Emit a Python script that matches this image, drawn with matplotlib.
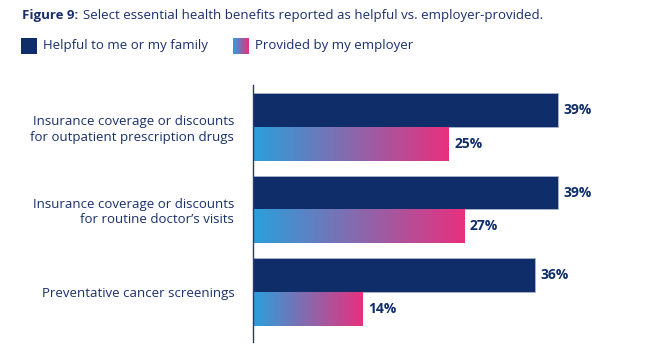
import numpy as np
import matplotlib
matplotlib.use('Agg')
import matplotlib.pyplot as plt
from matplotlib.colors import LinearSegmentedColormap

# data
categories = ['Insurance coverage or discounts\nfor outpatient prescription drugs',
              'Insurance coverage or discounts\nfor routine doctor\u2019s visits',
              'Preventative cancer screenings']
helpful = [39, 39, 36]
provided = [25, 27, 14]
series_names = ['Helpful to me or my family', 'Provided by my employer']

navy = '#0f2d69'
text_col = '#1a2f6b'
grad = LinearSegmentedColormap.from_list('grad', ['#2aa0dc', '#e8307e'])
gradient = np.linspace(0, 1, 256).reshape(1, -1)

plt.rcParams['font.family'] = ['Open Sans', 'DejaVu Sans']

fig = plt.figure(figsize=(6.45, 3.61), dpi=100)
ax = fig.add_axes([253 / 645, 19 / 361, 391 / 645, 257 / 361])

bh = 0.412
off = 0.206
y = np.arange(len(categories))

ax.barh(y - off, helpful, height=bh, color=navy, edgecolor='#aab4cc', linewidth=0.6)
for yi, v in zip(y, helpful):
    ax.text(v + 0.75, yi - off, f'{v}%', va='center', ha='left', fontsize=10,
            fontweight='bold', color=navy)

for yi, v in zip(y, provided):
    ax.imshow(gradient, cmap=grad, aspect='auto', interpolation='bicubic',
              extent=(0, v, yi + off + bh / 2, yi + off - bh / 2), zorder=2)
    ax.text(v + 0.75, yi + off, f'{v}%', va='center', ha='left', fontsize=10,
            fontweight='bold', color=navy)

ax.set_xlim(0, 50)
ax.set_ylim(2.606, -0.509)
ax.set_yticks(y)
ax.set_yticklabels(categories, fontsize=9.5, color=text_col, linespacing=1.25)
ax.tick_params(axis='y', length=0, pad=13.5)
ax.set_xticks([])
for s in ['top', 'right', 'bottom']:
    ax.spines[s].set_visible(False)
ax.spines['left'].set_color('#2a3a6a')
ax.spines['left'].set_linewidth(1)

# title
renderer = fig.canvas.get_renderer()
t1 = fig.text(22 / 645, 1 - 16 / 361, 'Figure 9:', fontsize=9.5, fontweight='bold',
              color=text_col, va='center', ha='left')
bb = t1.get_window_extent(renderer)
fig.text((bb.x1 + 5) / 645, 1 - 16 / 361,
         'Select essential health benefits reported as helpful vs. employer-provided.',
         fontsize=9.5, color=text_col, va='center', ha='left')

# legend
ly = 1 - 46 / 361
lax1 = fig.add_axes([21 / 645, 1 - 54 / 361, 16 / 645, 16 / 361])
lax1.set_facecolor(navy)
lax1.set_xticks([]); lax1.set_yticks([])
for s in lax1.spines.values():
    s.set_visible(False)
fig.text(43 / 645, ly, series_names[0], fontsize=9.5, color=text_col, va='center', ha='left')

lax2 = fig.add_axes([233 / 645, 1 - 54 / 361, 16 / 645, 16 / 361])
lax2.imshow(gradient, cmap=grad, aspect='auto')
lax2.axis('off')
fig.text(255 / 645, ly, series_names[1], fontsize=9.5, color=text_col, va='center', ha='left')

fig.savefig('out.png', dpi=100)
